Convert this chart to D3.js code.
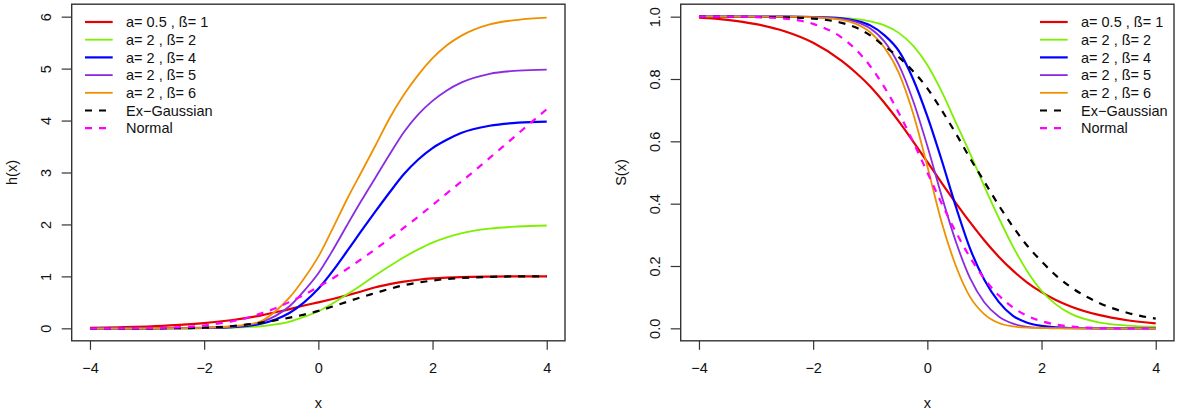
<!DOCTYPE html>
<html>
<head>
<meta charset="utf-8">
<script src="https://cdn.jsdelivr.net/npm/d3@7"></script>
<style>
  body { margin: 0; background: #fff; }
  text { font-family: "Liberation Sans", Arial, Helvetica, sans-serif; fill: #111; }
</style>
</head>
<body>
<svg id="chart" width="1179" height="413"></svg>
<script>
// x grid the curves were read at
var xs = [-4, -3.5, -3, -2.5, -2, -1.5, -1.25, -1, -0.75, -0.5, -0.25, 0, 0.25,
  0.5, 0.75, 1, 1.25, 1.5, 1.75, 2, 2.25, 2.5, 3, 3.5, 4]

// hazard h(x), left panel
var hRed = [0.01, 0.02, 0.035, 0.06, 0.1, 0.16, 0.2, 0.25, 0.31, 0.37, 0.44, 0.5, 0.565,
  0.635, 0.71, 0.79, 0.85, 0.9, 0.935, 0.96, 0.975, 0.985, 0.995, 1.0, 1.0]
var hGreen = [0, 0, 0, 0.001, 0.003, 0.012, 0.022, 0.04, 0.075, 0.13, 0.22, 0.33, 0.48,
  0.65, 0.83, 1.02, 1.2, 1.37, 1.52, 1.65, 1.75, 1.83, 1.92, 1.96, 1.98]
var hBlue = [0, 0, 0.001, 0.003, 0.008, 0.025, 0.045, 0.09, 0.17, 0.3, 0.5, 0.76, 1.1,
  1.48, 1.87, 2.25, 2.62, 2.97, 3.25, 3.47, 3.63, 3.76, 3.9, 3.96, 3.98]
var hPurple = [0, 0, 0.001, 0.003, 0.01, 0.035, 0.06, 0.12, 0.24, 0.43, 0.72, 1.06, 1.5,
  1.98, 2.45, 2.9, 3.35, 3.78, 4.12, 4.38, 4.58, 4.73, 4.9, 4.96, 4.98]
var hOrange = [0, 0, 0.001, 0.003, 0.01, 0.04, 0.07, 0.14, 0.33, 0.6, 0.96, 1.38, 1.92,
  2.48, 3.0, 3.52, 4.05, 4.5, 4.88, 5.2, 5.45, 5.63, 5.85, 5.94, 5.98]
var hExGauss = [0, 0, 0, 0.003, 0.012, 0.045, 0.075, 0.11, 0.155, 0.205, 0.265, 0.335, 0.42,
  0.51, 0.6, 0.68, 0.76, 0.83, 0.88, 0.92, 0.95, 0.97, 0.99, 1.0, 1.0]
var hNormal = [0.0001, 0.0009, 0.0044, 0.018, 0.055, 0.139, 0.2, 0.288, 0.387, 0.509, 0.646,
  0.798, 0.96, 1.141, 1.33, 1.525, 1.73, 1.94, 2.15, 2.373, 2.6, 2.82, 3.28, 3.75, 4.22]

// survival S(x), right panel
var sRed = [0.997, 0.99, 0.976, 0.953, 0.916, 0.858, 0.82, 0.776, 0.723, 0.664, 0.6, 0.534,
  0.467, 0.402, 0.34, 0.282, 0.23, 0.185, 0.147, 0.116, 0.091, 0.071, 0.043, 0.026, 0.016]
var sGreen = [1, 1, 1, 1, 0.999, 0.996, 0.992, 0.985, 0.972, 0.948, 0.907, 0.845, 0.76,
  0.66, 0.56, 0.455, 0.355, 0.262, 0.183, 0.12, 0.077, 0.048, 0.019, 0.009, 0.005]
var sBlue = [1, 1, 1, 1, 0.999, 0.995, 0.987, 0.972, 0.94, 0.89, 0.8, 0.68, 0.54,
  0.39, 0.255, 0.155, 0.085, 0.04, 0.018, 0.008, 0.003, 0.001, 0, 0, 0]
var sPurple = [1, 1, 1, 1, 0.999, 0.993, 0.983, 0.962, 0.92, 0.845, 0.73, 0.585, 0.425,
  0.278, 0.16, 0.083, 0.038, 0.015, 0.005, 0.002, 0.001, 0, 0, 0, 0]
var sOrange = [1, 1, 1, 1, 0.998, 0.99, 0.977, 0.95, 0.9, 0.82, 0.69, 0.52, 0.34,
  0.2, 0.1, 0.045, 0.017, 0.006, 0.002, 0.001, 0, 0, 0, 0, 0]
var sExGauss = [1, 1, 0.999, 0.998, 0.994, 0.98, 0.965, 0.94, 0.905, 0.87, 0.825, 0.77, 0.7,
  0.625, 0.545, 0.47, 0.395, 0.326, 0.265, 0.215, 0.17, 0.134, 0.082, 0.05, 0.031]
var sNormal = [1, 1, 0.9987, 0.9938, 0.977, 0.933, 0.894, 0.841, 0.773, 0.691, 0.599, 0.5,
  0.401, 0.309, 0.227, 0.159, 0.106, 0.067, 0.04, 0.023, 0.012, 0.006, 0.001, 0, 0]

var labels = ['a= 0.5 , ß= 1', 'a= 2 , ß= 2', 'a= 2 , ß= 4', 'a= 2 , ß= 5',
  'a= 2 , ß= 6', 'Ex\u2212Gaussian', 'Normal']
var colors = ['#e60000', '#7cf000', '#0000ff', '#8a2be2', '#ee9000', '#000000', '#ff00ff']
var widths = [2.2, 1.8, 2.2, 1.8, 1.8, 2.2, 2.2]
var dashed = [false, false, false, false, false, true, true]

var xTicks = [-4, -2, 0, 2, 4]
var hTicks = [0, 1, 2, 3, 4, 5, 6]
var sTicks = [0, 0.2, 0.4, 0.6, 0.8, 1.0]

var svg = d3.select('#chart')
var plotTop = 4.2
var plotBottom = 340.8

function drawPanel (opts) {
  var x = d3.scaleLinear().domain([-4.32, 4.32]).range([opts.left, opts.right])
  var yPad = (opts.yMax - opts.yMin) * 0.04
  var y = d3.scaleLinear()
    .domain([opts.yMin - yPad, opts.yMax + yPad])
    .range([plotBottom, plotTop])

  var g = svg.append('g')

  // x axis
  var xa = g.append('g')
    .attr('transform', 'translate(0,' + plotBottom + ')')
    .call(d3.axisBottom(x).tickValues(xTicks).tickSize(9).tickPadding(13)
      .tickFormat(function (d) { return d < 0 ? '\u2212' + Math.abs(d) : d }))
  xa.select('.domain').remove()
  xa.selectAll('line').attr('stroke', '#333').attr('stroke-width', 1.2)
  xa.selectAll('text').style('font-size', '14.5px').attr('fill', '#111')

  // y axis, labels turned like R does
  var ya = g.append('g')
    .attr('transform', 'translate(' + opts.left + ',0)')
    .call(d3.axisLeft(y).tickValues(opts.ticks).tickSize(10).tickFormat(opts.format))
  ya.select('.domain').remove()
  ya.selectAll('line').attr('stroke', '#333').attr('stroke-width', 1.2)
  ya.selectAll('text')
    .attr('x', null)
    .attr('dy', null)
    .attr('text-anchor', 'middle')
    .attr('transform', 'translate(-20.3,0) rotate(-90)')
    .style('font-size', '14.5px')
    .attr('fill', '#111')

  // curves
  var line = d3.line()
    .x(function (d, i) { return x(xs[i]) })
    .y(function (d) { return y(d) })
    .curve(d3.curveMonotoneX)

  g.selectAll('path.curve')
    .data(opts.series)
    .enter().append('path')
      .attr('class', 'curve')
      .attr('fill', 'none')
      .attr('d', line)
      .attr('stroke', function (d, i) { return colors[i] })
      .attr('stroke-width', function (d, i) { return widths[i] })
      .attr('stroke-dasharray', function (d, i) { return dashed[i] ? '7,7' : null })

  // box
  g.append('rect')
    .attr('x', opts.left)
    .attr('y', plotTop)
    .attr('width', opts.right - opts.left)
    .attr('height', plotBottom - plotTop)
    .attr('fill', 'none')
    .attr('stroke', '#333')
    .attr('stroke-width', 1.4)

  // axis titles
  g.append('text')
    .attr('x', (opts.left + opts.right) / 2)
    .attr('y', 407.8)
    .attr('text-anchor', 'middle')
    .style('font-size', '14.5px')
    .text('x')

  g.append('text')
    .attr('transform', 'translate(' + opts.yLabelX + ',' + ((plotTop + plotBottom) / 2) + ') rotate(-90)')
    .attr('text-anchor', 'middle')
    .style('font-size', '14.5px')
    .text(opts.yLabel)

  // legend
  var lg = g.append('g')
    .attr('transform', 'translate(' + opts.legendX + ',22)')

  var rows = lg.selectAll('g')
    .data(labels)
    .enter().append('g')
      .attr('transform', function (d, i) { return 'translate(0,' + (i * 17.7) + ')' })

  rows.append('line')
    .attr('x1', 0)
    .attr('x2', 27.7)
    .attr('stroke', function (d, i) { return colors[i] })
    .attr('stroke-width', function (d, i) { return widths[i] })
    .attr('stroke-dasharray', function (d, i) { return dashed[i] ? '7,7' : null })

  rows.append('text')
    .attr('x', 41)
    .attr('dy', '0.36em')
    .style('font-size', '14.5px')
    .text(function (d) { return d })
}

drawPanel({
  left: 71.7,
  right: 565,
  yMin: 0,
  yMax: 6,
  ticks: hTicks,
  format: d3.format('d'),
  yLabel: 'h(x)',
  yLabelX: 17.3,
  legendX: 85,
  series: [hRed, hGreen, hBlue, hPurple, hOrange, hExGauss, hNormal]
})

drawPanel({
  left: 680.7,
  right: 1174,
  yMin: 0,
  yMax: 1,
  ticks: sTicks,
  format: d3.format('.1f'),
  yLabel: 'S(x)',
  yLabelX: 625.5,
  legendX: 1040,
  series: [sRed, sGreen, sBlue, sPurple, sOrange, sExGauss, sNormal]
})
</script>
</body>
</html>
